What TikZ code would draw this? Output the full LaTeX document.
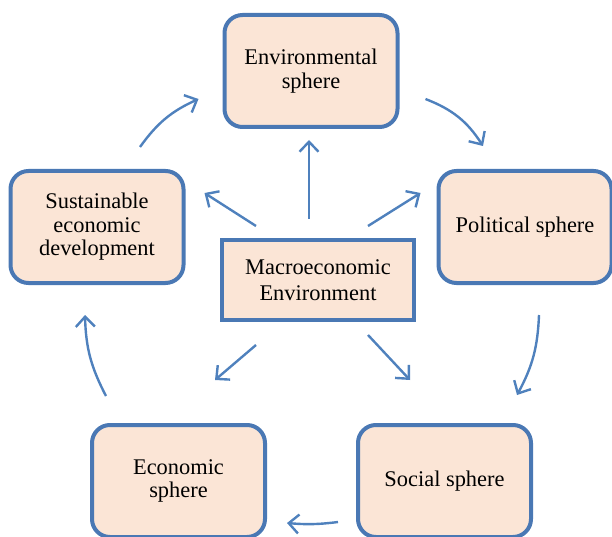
\documentclass[tikz,border=0pt]{standalone}
\usepackage{fontspec}
\setmainfont{Liberation Serif}
\usepackage{tikz}
\usetikzlibrary{arrows.meta}
\definecolor{SphereFill}{HTML}{FBE5D6}
\definecolor{SphereBlue}{HTML}{4A78B4}
\definecolor{ArrowBlue}{HTML}{4F81BD}

\begin{document}
\begin{tikzpicture}[x=1pt,y=1pt,
    sphere/.style={draw=SphereBlue,line width=4pt,fill=SphereFill,rounded corners=18pt,
      minimum width=173pt,minimum height=112pt,align=center,text=black,
      font=\fontsize{22.4}{23.5}\selectfont},
    flow/.style={draw=ArrowBlue,line width=2.4pt,-{Straight Barb[length=10pt,width=19pt]}}]
    \useasboundingbox (0,0) rectangle (612,536);

    \node[sphere] (Env) at (311,465) {Environmental\\sphere};
    \node[sphere] (Pol) at (525,309) {Political sphere};
    \node[sphere] (Soc) at (444.5,55) {Social sphere};
    \node[sphere] (Eco) at (178.5,55) {Economic\\sphere};
    \node[sphere] (Sus) at (97,309) {Sustainable\\economic\\development};
    \node[sphere,rounded corners=0pt,minimum width=192pt,minimum height=80pt,
      font=\fontsize{22.4}{25.5}\selectfont] (Macro) at (318,256) {Macroeconomic\\Environment};

    \draw[flow] ([shift={(-9,19)}]Macro.north) -- ([shift={(-2,-11)}]Env.south);
    \draw[flow] ([shift={(36,12)}]Macro.north west) -- ([shift={(19,34)}]Sus.east);
    \draw[flow] ([shift={(-48,12)}]Macro.north east) -- ([shift={(-16,34)}]Pol.west);
    \draw[flow] ([shift={(36,-23)}]Macro.south west) -- ([shift={(-52,43)}]Eco.north east);
    \draw[flow] ([shift={(-48,-13)}]Macro.south east) -- ([shift={(54,43)}]Soc.north west);

    \draw[flow] ([shift={(26,-28)}]Env.east) to[bend left=18] ([shift={(-42,23)}]Pol.north);
    \draw[flow] ([shift={(14,-30)}]Pol.south) to[bend left=13] ([shift={(-16,28)}]Soc.north east);
    \draw[flow] ([shift={(-18,-41)}]Soc.west) to[bend left=6] ([shift={(20,-42)}]Eco.east);
    \draw[flow] ([shift={(16,27)}]Eco.north west) to[bend left=13] ([shift={(-12,-30)}]Sus.south);
    \draw[flow] ([shift={(43,22)}]Sus.north) to[bend left=15] ([shift={(-24,-28)}]Env.west);
\end{tikzpicture}
\end{document}
